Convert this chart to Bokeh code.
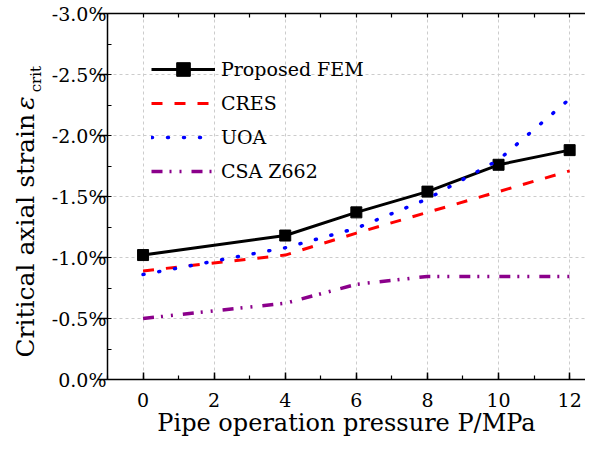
import math
from bokeh.plotting import figure
from bokeh.layouts import row
from bokeh.models import (Range1d, LinearAxis, SingleIntervalTicker, PrintfTickFormatter,
                          CustomJSTickFormatter, Legend, LegendItem)
from bokeh.core.properties import value
from bokeh.embed import file_html
from bokeh.resources import INLINE

# ---- data ----
pressure = [0, 4, 6, 8, 10, 12]                      # MPa
fem = [-1.02, -1.18, -1.37, -1.54, -1.76, -1.88]     # Proposed FEM, %
cres = [-0.89, -1.02, -1.20, -1.37, -1.54, -1.71]    # CRES, %
uoa = [-0.86, -1.08, -1.24, -1.48, -1.80, -2.30]     # UOA, %
csa = [-0.50, -0.625, -0.78, -0.845, -0.845, -0.845] # CSA Z662, %
series_names = ["Proposed FEM", "CRES", "UOA", "CSA Z662"]
x_title = "Pipe operation pressure P/MPa"
y_title = ["Critical axial strain", "ε", "crit"]

FONT = "DejaVu Serif"
YW, MAIN_W, H = 45, 540, 441

# ---------------- main chart ----------------
p = figure(width=MAIN_W, height=H, output_backend="svg", toolbar_location=None,
           x_range=Range1d(-1, 12.446), y_range=Range1d(0, -3),
           min_border_left=62, min_border_right=0, min_border_top=13,
           min_border_bottom=62)
p.outline_line_color = None
p.background_fill_color = "white"

xt = SingleIntervalTicker(interval=2, num_minor_ticks=2)
yt = SingleIntervalTicker(interval=0.5, num_minor_ticks=2)
xa = p.xaxis[0]
ya = p.yaxis[0]
xa.ticker = xt
ya.ticker = yt
p.xgrid.ticker = xt
p.ygrid.ticker = yt
ya.formatter = PrintfTickFormatter(format="%.1f%%")

for ax in (xa, ya):
    ax.axis_line_color = "black"
    ax.axis_line_width = 1.5
    ax.major_tick_line_color = "black"
    ax.minor_tick_line_color = "black"
    ax.major_tick_line_width = 1.5
    ax.minor_tick_line_width = 1.2
    ax.major_label_text_font = FONT
    ax.major_label_text_font_size = "19px"
    ax.major_label_text_color = "black"

xa.major_tick_in = 7
xa.major_tick_out = 0
xa.minor_tick_in = 4
xa.minor_tick_out = 0
xa.major_label_standoff = 13
xa.axis_label = x_title
xa.axis_label_text_font = FONT
xa.axis_label_text_font_size = "24px"
xa.axis_label_text_font_style = "normal"
xa.axis_label_text_color = "black"
xa.axis_label_standoff = -1

ya.major_tick_in = 0
ya.major_tick_out = 10
ya.minor_tick_in = 4
ya.minor_tick_out = 0
ya.major_label_standoff = -9

top = LinearAxis(ticker=SingleIntervalTicker(interval=1, num_minor_ticks=0),
                 formatter=CustomJSTickFormatter(code="return ''"),
                 major_label_text_font_size="1px", major_label_standoff=0,
                 major_tick_in=4, major_tick_out=0, axis_line_width=1.5,
                 axis_line_color="black", major_tick_line_color="black",
                 major_tick_line_width=1.2, minor_tick_line_color=None)
p.add_layout(top, "above")

for g in (p.xgrid[0], p.ygrid[0]):
    g.grid_line_color = "#cccccc"
    g.grid_line_dash = "3 3"
    g.grid_line_width = 1

r_fem = p.line(pressure, fem, line_color="black", line_width=3)
r_fem_m = p.scatter(pressure, fem, marker="square", size=11, fill_color="black",
                    line_color="black")
r_cres = p.line(pressure, cres, line_color="#ff0000", line_width=3, line_dash="11 12")
r_uoa = p.line(pressure, uoa, line_color="#0000ff", line_width=3.5, line_dash="1 15",
               line_cap="round")
r_csa = p.line(pressure, csa, line_color="#8b008b", line_width=3.5,
               line_dash="11 7 2 8 2 10")

legend = Legend(items=[
    LegendItem(label=series_names[0], renderers=[r_fem, r_fem_m]),
    LegendItem(label=series_names[1], renderers=[r_cres]),
    LegendItem(label=series_names[2], renderers=[r_uoa]),
    LegendItem(label=series_names[3], renderers=[r_csa]),
], location=(44, 191), glyph_width=64, glyph_height=34, label_height=34,
   label_standoff=6, spacing=0, padding=0, margin=0,
   border_line_color=None, background_fill_alpha=0,
   label_text_font=FONT, label_text_font_size="19px", label_text_color="black")
p.add_layout(legend)

# ---------------- y-axis title panel (italic symbol and subscript) ----------------
yf = figure(width=YW, height=H, output_backend="svg", toolbar_location=None,
            title=None, x_range=Range1d(0, YW), y_range=Range1d(0, H),
            min_border=0, x_axis_location=None, y_axis_location=None)
yf.outline_line_color = None
yf.xgrid.visible = False
yf.ygrid.visible = False

yf.text(x=[25], y=[320], text=[y_title[0]], angle=math.pi / 2,
        text_font=value(FONT), text_font_size="25px", text_color="black",
        text_align="right", text_baseline="alphabetic")
yf.text(x=[25], y=[325], text=[y_title[1]], angle=math.pi / 2,
        text_font=value(FONT), text_font_style="italic", text_font_size="25px",
        text_color="black", text_align="left", text_baseline="alphabetic")
yf.text(x=[35], y=[346], text=[y_title[2]], angle=math.pi / 2,
        text_font=value(FONT), text_font_size="15px", text_color="black",
        text_align="left", text_baseline="alphabetic")

layout = row(yf, p, spacing=0)
open("out.html", "w").write(file_html(layout, INLINE))
